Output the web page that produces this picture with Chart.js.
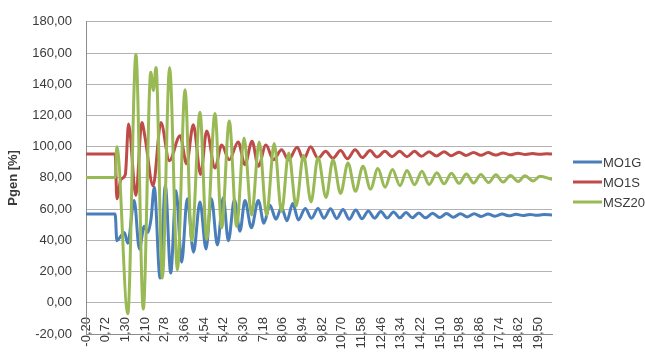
<!DOCTYPE html>
<html>
<head>
<meta charset="utf-8">
<script src="https://cdn.jsdelivr.net/npm/chart.js@4.4.1/dist/chart.umd.min.js"></script>
<style>
  html, body { margin: 0; padding: 0; background: #fff; }
</style>
</head>
<body>
<canvas id="pgenChart" width="645" height="358"></canvas>
<script>
// category labels of the time axis (s), evenly spaced like the original
const tickTimes = [-0.20, 0.72, 1.30, 2.10, 2.78, 3.66, 4.54, 5.42, 6.30, 7.18, 8.06, 8.94,
  9.82, 10.70, 11.58, 12.46, 13.34, 14.22, 15.10, 15.98, 16.86, 17.74, 18.62, 19.50];
const lastTime = 20.11;

const yTicks = [-20, 0, 20, 40, 60, 80, 100, 120, 140, 160, 180];

// MO1G
const mo1gTime = [-0.20, 1.00, 1.05, 1.17, 1.27, 1.40, 1.66, 1.87, 2.07, 2.20, 2.31, 2.42, 2.62, 2.81,
  3.05, 3.29, 3.54, 3.79, 4.07, 4.36, 4.63, 4.87, 5.14, 5.40, 5.63, 5.90, 6.15, 6.37, 6.66, 6.97,
  7.22, 7.49, 7.76, 8.01, 8.25, 8.51, 8.76, 9.07, 9.35, 9.64, 9.91, 10.20, 10.48, 10.76, 11.04,
  11.33, 11.61, 11.89, 12.17, 12.45, 12.74, 13.02, 13.30, 13.58, 13.86, 14.15, 14.45, 14.77, 15.08,
  15.39, 15.70, 16.01, 16.32, 16.63, 16.94, 17.25, 17.56, 17.88, 18.19, 18.50, 18.81, 19.12, 19.43,
  19.74, 20.11];
const mo1gValue = [56.8, 56.8, 39.7, 42.8, 45, 38.2, 65.6, 34.5, 49, 45, 54, 74, 15.8, 75,
  19, 71.8, 26, 66.7, 32.4, 64.6, 34.5, 66.7, 37, 67.3, 39.7, 66, 45.9, 65.6, 48, 65.6,
  51, 62.5, 53.5, 61, 52.5, 63.6, 53.1, 60.4, 54.2, 60.4, 54.2, 60.2, 54, 59.8, 53.5,
  59.4, 53.8, 58.8, 54.2, 58.4, 54.3, 58.2, 54.4, 57.8, 54.5, 57.5, 54.4, 57.3, 54.6,
  57.2, 54.8, 57.1, 55, 57, 55.3, 56.9, 55.5, 56.8, 55.7, 56.7, 55.9, 56.6, 56,
  56.5, 56.3];

// MO1S
const mo1sTime = [-0.20, 1.00, 1.05, 1.17, 1.30, 1.43, 1.73, 1.97, 2.10, 2.38, 2.65, 2.99, 3.47, 3.76,
  4.06, 4.39, 4.66, 5.03, 5.33, 5.67, 6.07, 6.37, 6.69, 6.97, 7.31, 7.65, 8.01, 8.32, 8.71, 8.99,
  9.31, 9.64, 9.98, 10.31, 10.65, 10.96, 11.30, 11.63, 11.97, 12.28, 12.64, 12.95, 13.29, 13.62,
  13.96, 14.27, 14.61, 14.94, 15.28, 15.59, 15.95, 16.26, 16.60, 16.93, 17.25, 17.58, 17.92, 18.25,
  18.59, 18.92, 19.24, 19.57, 19.89, 20.11];
const mo1sValue = [95.3, 95.3, 66.7, 79, 82.2, 114.5, 68.7, 115.5, 106, 75, 115.5, 91, 107, 89,
  114, 82.2, 110, 86.4, 101, 91.6, 103, 88.5, 103.5, 87.4, 101, 91.6, 98, 91.6, 99.6, 91.6,
  99.9, 92.6, 97, 92.6, 97.5, 92.3, 98, 93, 97.5, 93.4, 97, 93.6, 97, 93.6,
  97, 93.8, 96.8, 94, 96.8, 94.2, 96.5, 94.4, 96.3, 94.5, 96.2, 94.6, 96, 94.8,
  95.8, 95, 95.6, 95.1, 95.5, 95.3];

// MSZ20
const msz20Time = [-0.20, 1.00, 1.05, 1.40, 1.73, 2.03, 2.30, 2.39, 2.48, 2.70, 3.00, 3.35, 3.69, 3.99,
  4.36, 4.66, 5.03, 5.33, 5.67, 6.00, 6.33, 6.67, 7.01, 7.34, 7.68, 8.01, 8.33, 8.66, 8.99, 9.33,
  9.64, 10.00, 10.31, 10.65, 10.98, 11.32, 11.65, 11.99, 12.32, 12.64, 12.97, 13.31, 13.62, 13.96,
  14.29, 14.61, 14.96, 15.28, 15.61, 15.95, 16.28, 16.60, 16.93, 17.27, 17.60, 17.92, 18.25, 18.59,
  18.90, 19.26, 19.57, 20.11];
const msz20Value = [80.2, 80.2, 100, -7, 159, -4, 147.7, 136, 150.8, 15.8, 150.8, 21, 136.5, 39.7,
  122, 40.7, 121.3, 48, 116.5, 49, 105.5, 56.3, 103, 56, 102, 58.4, 96, 62, 94.5, 64.6,
  93, 67.5, 91.6, 70, 89.5, 71.5, 87.5, 72.8, 86, 74, 85.4, 75, 84.7, 75.6,
  84.3, 75.8, 83.3, 76.2, 83, 76.5, 82.5, 76.8, 82.2, 77, 82, 77.3, 81.5, 77.7,
  81.3, 78, 81, 79];

const seriesNames = ["MO1G", "MO1S", "MSZ20"];
const seriesColors = ["#4a7ebb", "#be4b48", "#98b954"];

// the category axis is not linear in time: map a time onto its slot position
const slotOf = (t) => {
  for (let i = 0; i < tickTimes.length - 1; i++) {
    if (t <= tickTimes[i + 1]) {
      return i + (t - tickTimes[i]) / (tickTimes[i + 1] - tickTimes[i]);
    }
  }
  const n = tickTimes.length - 1;
  return n + (t - tickTimes[n]) / (tickTimes[n] - tickTimes[n - 1]);
};

const toPoints = (times, values) => times.map((t, i) => ({ x: slotOf(t), y: values[i] }));

const fmt = (v) => v.toFixed(2).replace(".", ",");
const textColor = "#3a3a3a";
const baseFont = { family: "'Liberation Sans', Arial, sans-serif", size: 13 };

const sideLegend = {
  id: "sideLegend",
  afterDraw(chart) {
    const ctx = chart.ctx;
    ctx.save();
    ctx.font = "13px 'Liberation Sans', Arial, sans-serif";
    ctx.textBaseline = "middle";
    ctx.fillStyle = textColor;
    seriesNames.forEach((name, i) => {
      const y = 162 + i * 20;
      ctx.strokeStyle = seriesColors[i];
      ctx.lineWidth = 3;
      ctx.beginPath();
      ctx.moveTo(573, y);
      ctx.lineTo(602, y);
      ctx.stroke();
      ctx.fillText(name, 603, y + 1);
    });
    ctx.restore();
  },
};

const makeSet = (i, times, values, order) => ({
  label: seriesNames[i],
  data: toPoints(times, values),
  borderColor: seriesColors[i],
  backgroundColor: seriesColors[i],
  borderWidth: 3,
  pointRadius: 0,
  fill: false,
  cubicInterpolationMode: "monotone",
  order: order,
});

new Chart(document.getElementById("pgenChart"), {
  type: "line",
  data: {
    datasets: [
      makeSet(0, mo1gTime, mo1gValue, 2),
      makeSet(1, mo1sTime, mo1sValue, 1),
      makeSet(2, msz20Time, msz20Value, 0),
    ],
  },
  options: {
    responsive: false,
    animation: false,
    devicePixelRatio: 1,
    layout: { padding: { left: 0, top: 13, right: 93, bottom: 0 } },
    plugins: {
      legend: { display: false },
      tooltip: { enabled: false },
    },
    scales: {
      x: {
        type: "linear",
        min: 0,
        max: slotOf(lastTime),
        afterBuildTicks: (scale) => {
          scale.ticks = tickTimes.map((t, i) => ({ value: i }));
        },
        afterFit: (scale) => {
          scale.height = 24;
          // labels sit across the bottom line, so don't clip them to the axis box
          scale._computeLabelArea = () => undefined;
        },
        grid: { display: false, drawTicks: false },
        border: { display: true, color: "#8c8c8c", width: 1 },
        ticks: {
          autoSkip: false,
          minRotation: 90,
          maxRotation: 90,
          padding: -17,
          color: textColor,
          font: baseFont,
          callback: (v) => fmt(tickTimes[v]),
        },
      },
      y: {
        min: -20,
        max: 180,
        afterBuildTicks: (scale) => {
          scale.ticks = yTicks.map((v) => ({ value: v }));
        },
        afterFit: (scale) => {
          scale.width = 86;
        },
        grid: { color: "#b3b3b3", lineWidth: 1, drawTicks: false },
        border: { display: true, color: "#8c8c8c", width: 1 },
        ticks: {
          padding: 14,
          color: textColor,
          font: baseFont,
          callback: (v) => fmt(v),
        },
        title: {
          display: true,
          text: "Pgen [%]",
          color: textColor,
          font: { family: "'Liberation Sans', Arial, sans-serif", size: 13, weight: "bold" },
          padding: { top: 6, bottom: 0 },
        },
      },
    },
  },
  plugins: [sideLegend],
});
</script>
</body>
</html>
